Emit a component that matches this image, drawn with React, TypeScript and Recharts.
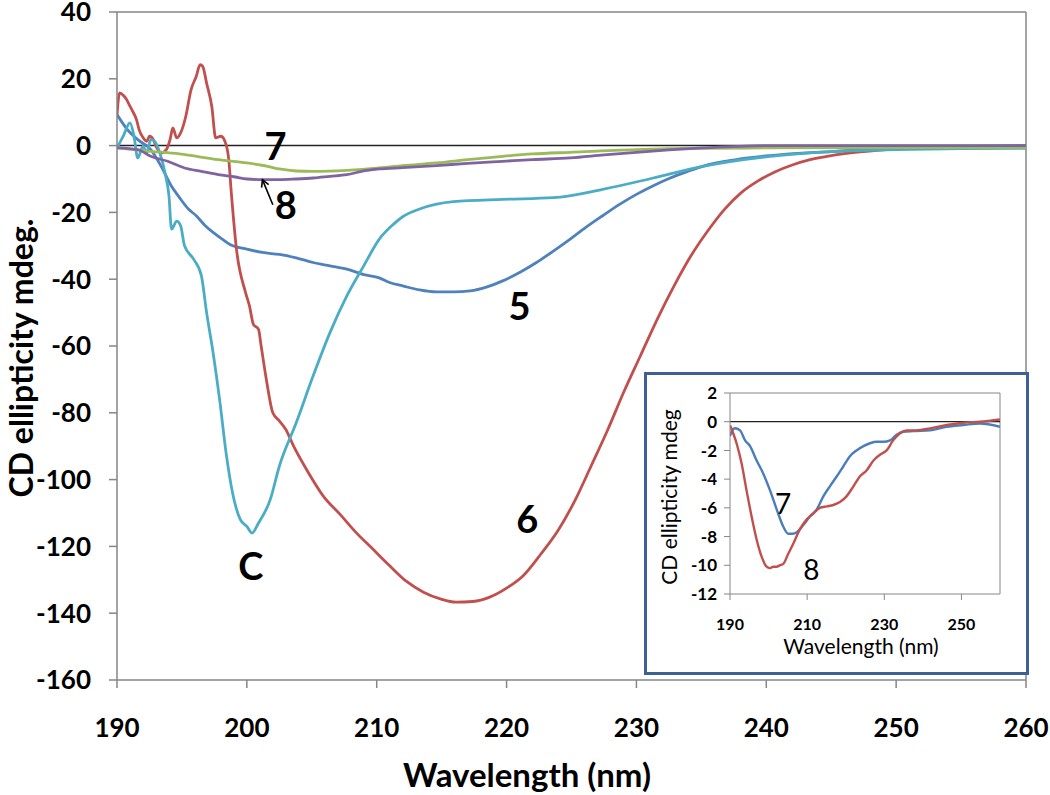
import React from 'react'
import { LineChart, Line, XAxis, YAxis, ReferenceLine, ReferenceDot } from 'recharts'

// main chart: wavelength (nm) / CD ellipticity (mdeg) for each sample
const wl5 = [190, 190.8, 191.6, 192.6, 193.4, 194.2, 194.8, 195.5, 196.1, 196.8, 197.4, 198.1, 198.7, 200, 201.2, 202.5, 203.8, 205.1, 206.4, 207.7, 209, 210.2, 211, 212, 213.3, 214.6, 215.9, 217.2, 218.5, 219.7, 221, 222.3, 223.6, 224.9, 226.1, 227.4, 228.7, 230, 231.3, 232.6, 233.9, 235.1, 237.7, 240.3, 245, 250, 255, 260]
const cd5 = [9.3, 4.8, 1.8, -1.2, -6.2, -12.2, -15.5, -19, -21, -24, -26, -28, -29.6, -31, -32, -32.6, -33.6, -35, -36, -37, -38.6, -39.6, -41, -42, -43.2, -43.8, -43.8, -43.5, -42.3, -40.5, -38, -35, -31.6, -28, -24.5, -21, -17.6, -14.6, -12, -9.7, -7.8, -6.2, -4.2, -3, -1.8, -0.8, -0.3, 0]

const wl6 = [190, 190.2, 190.5, 190.7, 191, 191.2, 191.5, 191.7, 192, 192.3, 192.5, 192.8, 193, 193.4, 193.8, 194.1, 194.3, 194.6, 194.9, 195.3, 195.7, 196.1, 196.4, 196.6, 196.9, 197.3, 197.6, 198, 198.4, 198.6, 198.8, 199.2, 199.9, 200.2, 200.5, 200.9, 201.1, 201.5, 202, 202.5, 203, 203.6, 204.6, 205.9, 207.2, 208.4, 209.7, 211, 212.3, 213.6, 214.9, 216.1, 217.4, 218.7, 220, 221.3, 222.6, 224, 225.3, 226.5, 227.8, 229, 230.3, 231.6, 232.9, 234.2, 235.5, 236.8, 238.1, 239.4, 240.7, 242, 243.3, 245, 247.5, 250, 253, 256, 260]
const cd6 = [9, 15.8, 15, 14, 11.8, 10.3, 7.8, 4.8, 2.4, 1.3, 2.8, 1.8, -0.2, -2.2, -1.2, 2, 5.3, 2.3, 3.8, 8.8, 16.7, 20.7, 24.2, 23.7, 18.7, 11.7, 2.3, 2.8, 0.3, -4, -14, -31, -44, -48, -53.5, -55, -60, -70, -80, -82.4, -85, -90, -97, -105, -110.5, -115.8, -120.8, -125.8, -130.5, -133.7, -135.7, -136.7, -136.5, -135.2, -132.5, -128.7, -122.5, -115, -106, -96, -85, -74, -63, -52, -42, -33, -25.5, -19, -14, -10.5, -7.8, -5.8, -4.3, -3, -1.8, -1, -0.6, -0.4, -0.3]

const wlC = [190, 190.5, 191, 191.3, 191.6, 192, 192.3, 192.6, 192.9, 193.3, 193.7, 194, 194.2, 194.6, 194.9, 195.2, 195.9, 196.5, 196.9, 197.4, 197.9, 198.4, 198.9, 199.5, 200, 200.4, 200.9, 201.8, 202.5, 203.8, 205.1, 206.4, 207.7, 209, 210.2, 211.3, 212, 213.3, 215.9, 219.7, 223.6, 227.4, 231.3, 235.1, 240.3, 245, 250, 255, 260]
const cdC = [-0.7, 3, 6.8, 3, -3.7, -0.2, -2.2, 1.8, 1.3, -2.2, -8.2, -15, -25, -22.6, -24, -30, -34, -39, -50, -62, -76, -92, -104, -112, -114, -116, -113, -106, -96, -83, -69, -56, -45, -36, -28, -23.5, -21.3, -19, -16.8, -16.1, -15.6, -13.1, -9.7, -6.2, -3.2, -1.8, -1.2, -0.9, -0.8]

const wl7 = [190, 192.6, 194.8, 197.8, 200, 201.6, 202.5, 203.8, 205.1, 207.7, 210.2, 212, 214.6, 217, 219.7, 222, 224.9, 230, 235, 240, 250, 260]
const cd7 = [-0.7, -1.7, -2.5, -4.2, -5.2, -6.2, -7, -7.6, -7.7, -7.4, -6.7, -6, -5.2, -4.2, -3.2, -2.5, -2, -1.2, -0.8, -0.7, -0.6, -0.6]

const wl8 = [190, 191.6, 192.6, 193.9, 195.2, 196.5, 197.8, 199.1, 200, 201.3, 202.5, 203.8, 205.1, 206.4, 207.7, 209, 210.2, 212, 214.6, 217, 219.7, 222, 224.9, 227.5, 230, 232.5, 235.1, 240.3, 250, 260]
const cd8 = [-0.7, -1.2, -3.2, -4.7, -6.7, -7.7, -8.7, -9.4, -10, -10.2, -10.2, -10, -9.7, -9.2, -8.7, -7.6, -7, -6.6, -6, -5.3, -4.7, -4.2, -3.7, -2.8, -2, -1.3, -0.7, 0, 0, 0]

// inset: samples 7 and 8 on their own scale
const wlIn7 = [190, 190.4, 191.3, 192.6, 193.9, 195.2, 196.9, 198.6, 200.4, 202.1, 203.8, 205.1, 206.2, 207.3, 209, 210.7, 212.5, 214.2, 215.9, 217.7, 219.4, 221.1, 222.8, 224.6, 226.3, 228, 229.8, 231.5, 233.2, 234.9, 237.5, 241.9, 246.2, 250.5, 254.8, 260]
const cdIn7 = [-1.0, -0.7, -0.45, -0.6, -1.3, -1.7, -2.7, -3.6, -4.8, -6.1, -7.3, -7.8, -7.8, -7.7, -7.2, -6.6, -6.1, -5.2, -4.5, -3.8, -3.1, -2.4, -2.0, -1.7, -1.5, -1.4, -1.4, -1.3, -0.9, -0.7, -0.65, -0.6, -0.35, -0.23, -0.12, -0.35]
const wlIn8 = [190, 191.7, 193, 194.3, 195.6, 196.9, 198.2, 199.5, 200.3, 201.2, 202.1, 202.9, 203.8, 205.1, 206.4, 208.1, 209.9, 211.6, 213.3, 215.1, 216.8, 218.5, 220.2, 222, 223.7, 225.4, 227.2, 228.9, 230.6, 232.3, 234.1, 235.8, 238.4, 241.9, 246.2, 250.5, 254.8, 260]
const cdIn8 = [-0.25, -1.5, -2.9, -4.8, -6.6, -8.2, -9.4, -10.1, -10.2, -10.1, -10.1, -10.0, -9.9, -9.2, -8.5, -7.5, -6.8, -6.4, -6.0, -5.9, -5.8, -5.6, -5.2, -4.5, -3.8, -3.4, -2.7, -2.3, -2.0, -1.3, -0.8, -0.6, -0.6, -0.46, -0.23, -0.07, 0, 0.16]

const xTicks = [190, 200, 210, 220, 230, 240, 250, 260]
const yTicks = [40, 20, 0, -20, -40, -60, -80, -100, -120, -140, -160]
const xTicksIn = [190, 210, 230, 250]
const yTicksIn = [2, 0, -2, -4, -6, -8, -10, -12]

const FONT = "Lato, 'Open Sans', sans-serif"
const AXIS = '#868686'

const rows = (xs: number[], ys: number[]) => xs.map((wl, i) => ({ wl, cd: ys[i] }))

const yTick = (size: number) => (p: any) => (
  <text x={p.x} y={p.y} dy="0.36em" textAnchor="end" fontFamily={FONT} fontWeight={700} fontSize={size} fill="#000">
    {p.payload.value}
  </text>
)
const xTick = (size: number) => (p: any) => (
  <text x={p.x} y={p.y} dy="0.36em" textAnchor="middle" fontFamily={FONT} fontWeight={700} fontSize={size} fill="#000">
    {p.payload.value}
  </text>
)

const tag = (t: string, size: number, weight = 700) => (p: any) => (
  <text x={p.cx} y={p.cy} dy="0.36em" textAnchor="middle" fontFamily={FONT} fontWeight={weight} fontSize={size} fill="#000">
    {t}
  </text>
)

const arrow = (p: any) => {
  const { x1, y1, x2, y2 } = p
  const a = Math.atan2(y2 - y1, x2 - x1)
  const h = 8
  const l1 = { x: x2 - h * Math.cos(a - 0.5), y: y2 - h * Math.sin(a - 0.5) }
  const l2 = { x: x2 - h * Math.cos(a + 0.5), y: y2 - h * Math.sin(a + 0.5) }
  return (
    <g stroke="#000" strokeWidth={1.6} fill="none">
      <line x1={x1} y1={y1} x2={x2} y2={y2} />
      <polyline points={`${l1.x},${l1.y} ${x2},${y2} ${l2.x},${l2.y}`} />
    </g>
  )
}

const series = (xs: number[], ys: number[], color: string, w: number) => (
  <Line data={rows(xs, ys)} dataKey="cd" type="monotone" stroke={color} strokeWidth={w}
    dot={false} activeDot={false} isAnimationActive={false} />
)

export default function App() {
  return (
    <div style={{ position: 'absolute', left: 0, top: 0, width: 1050, height: 795, background: '#fff' }}>
      <LineChart width={1050} height={795} margin={{ top: 12, right: 24, left: 0, bottom: 0 }}>
        <XAxis type="number" dataKey="wl" domain={[190, 260]} ticks={xTicks} height={115}
          tickSize={8} tickMargin={40} stroke={AXIS} strokeWidth={1.5} tick={xTick(26)} allowDataOverflow />
        <YAxis type="number" domain={[-160, 40]} ticks={yTicks} width={117}
          tickSize={8} tickMargin={18} stroke={AXIS} strokeWidth={1.5} tick={yTick(26)} allowDataOverflow />
        <ReferenceLine y={40} stroke={AXIS} strokeWidth={1.5} />
        <ReferenceLine x={260} stroke={AXIS} strokeWidth={1.5} />
        <ReferenceLine y={0} stroke="#222" strokeWidth={1.5} />
        {series(wl5, cd5, '#4f81bd', 2.8)}
        {series(wl6, cd6, '#c0504d', 2.8)}
        {series(wlC, cdC, '#4bacc6', 2.8)}
        {series(wl7, cd7, '#9bbb59', 2.8)}
        {series(wl8, cd8, '#8064a2', 2.8)}
        <ReferenceLine segment={[{ x: 202.0, y: -17.7 }, { x: 201.2, y: -10.2 }]} shape={arrow} />
        <ReferenceDot x={202.2} y={-0.3} r={0} shape={tag('7', 38)} />
        <ReferenceDot x={203.0} y={-18} r={0} shape={tag('8', 38)} />
        <ReferenceDot x={221.0} y={-48} r={0} shape={tag('5', 38)} />
        <ReferenceDot x={221.6} y={-112} r={0} shape={tag('6', 38)} />
        <ReferenceDot x={200.3} y={-126} r={0} shape={tag('C', 38)} />
      </LineChart>

      <div style={{ position: 'absolute', left: 644, top: 372, width: 385, height: 303, boxSizing: 'border-box', border: '3px solid #3d6196', background: '#fff' }}>
        <LineChart width={379} height={297} margin={{ top: 18, right: 26, left: 0, bottom: 0 }}>
          <XAxis type="number" dataKey="wl" domain={[190, 260]} ticks={xTicksIn} height={78}
            tickSize={6} tickMargin={24} stroke={AXIS} tick={xTick(16)} allowDataOverflow />
          <YAxis type="number" domain={[-12, 2]} ticks={yTicksIn} width={83}
            tickSize={6} tickMargin={7} stroke={AXIS} tick={yTick(17)} allowDataOverflow />
          <ReferenceLine y={2} stroke={AXIS} />
          <ReferenceLine x={260} stroke={AXIS} />
          <ReferenceLine y={0} stroke="#222" strokeWidth={1.2} />
          {series(wlIn7, cdIn7, '#4a7ebb', 2.4)}
          {series(wlIn8, cdIn8, '#c0504d', 2.4)}
          <ReferenceDot x={203.8} y={-5.7} r={0} shape={tag('7', 28, 400)} />
          <ReferenceDot x={211.1} y={-10.3} r={0} shape={tag('8', 28, 400)} />
        </LineChart>
      </div>

      <svg width={1050} height={795} style={{ position: 'absolute', left: 0, top: 0, pointerEvents: 'none' }}>
        <text transform="translate(21,358) rotate(-90)" dy="0.36em" textAnchor="middle" fontFamily={FONT} fontWeight={700} fontSize={32}>
          CD ellipticity mdeg.
        </text>
        <text x={527} y={775} dy="0.36em" textAnchor="middle" fontFamily={FONT} fontWeight={700} fontSize={33}>
          Wavelength (nm)
        </text>
        <text transform="translate(669,497) rotate(-90)" dy="0.36em" textAnchor="middle" fontFamily={FONT} fontSize={21}>
          CD ellipticity mdeg
        </text>
        <text x={861} y={646} dy="0.36em" textAnchor="middle" fontFamily={FONT} fontSize={21}>
          Wavelength (nm)
        </text>
      </svg>
    </div>
  )
}
